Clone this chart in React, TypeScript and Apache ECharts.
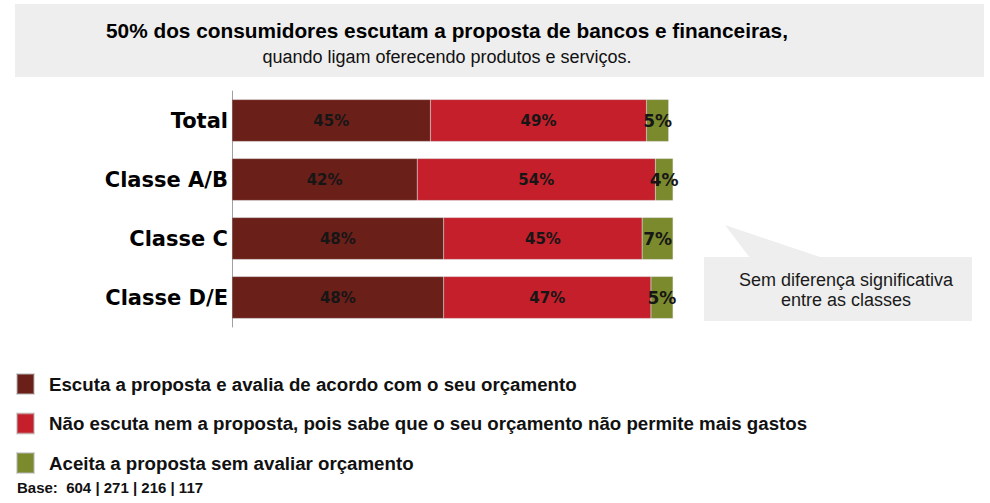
import React, { useEffect, useRef } from "react";
import * as echarts from "echarts";

const categories = ["Total", "Classe A/B", "Classe C", "Classe D/E"];
const seriesNames = [
  "Escuta a proposta e avalia de acordo com o seu orçamento",
  "Não escuta nem a proposta, pois sabe que o seu orçamento não permite mais gastos",
  "Aceita a proposta sem avaliar orçamento",
];
const escuta = [45, 42, 48, 48];
const naoEscuta = [49, 54, 45, 47];
const aceita = [5, 4, 7, 5];
const colors = ["#6B1F19", "#C41F2A", "#7A8A2C"];
const titleLine1 = "50% dos consumidores escutam a proposta de bancos e financeiras,";
const titleLine2 = "quando ligam oferecendo produtos e serviços.";
const noteLines = ["Sem diferença significativa", "entre as classes"];
const baseText = "Base:  604 | 271 | 216 | 117";

export default function App() {
  const ref = useRef<HTMLDivElement>(null);
  useEffect(() => {
    if (!ref.current) return;
    const chart = echarts.init(ref.current, undefined, { renderer: "svg" });
    const values = [escuta, naoEscuta, aceita];
    const labelSizes = [15, 15, 17];
    chart.setOption({
      animation: false,
      backgroundColor: "#ffffff",
      grid: { left: 232, top: 91, width: 441, height: 236, containLabel: false },
      xAxis: {
        type: "value",
        min: 0,
        max: 100,
        show: false,
      },
      yAxis: {
        type: "category",
        data: categories,
        inverse: true,
        axisLine: { show: true, lineStyle: { color: "#a0a0a0", width: 1 } },
        axisTick: { show: false },
        splitLine: { show: false },
        axisLabel: {
          color: "#000",
          fontSize: 21,
          fontWeight: "bold",
          fontFamily: "DejaVu Sans",
          margin: 4,
        },
      },
      legend: {
        orient: "vertical",
        left: 16,
        top: 373,
        padding: 0,
        itemWidth: 17,
        itemHeight: 20,
        itemGap: 17.5,
        icon: "rect",
        selectedMode: false,
        data: seriesNames,
        textStyle: {
          fontSize: 18.7,
          lineHeight: 20,
          fontWeight: "bold",
          fontFamily: "Liberation Sans",
          color: "#111",
          padding: [0, 0, 0, 10],
        },
      },
      series: seriesNames.map((name, i) => ({
        name,
        type: "bar",
        stack: "total",
        barWidth: 42,
        data: values[i],
        itemStyle: { color: colors[i], borderColor: "rgba(180,180,180,0.5)", borderWidth: 0.5 },
        label: {
          show: true,
          position: "inside",
          formatter: "{c}%",
          color: "#161616",
          fontSize: labelSizes[i],
          fontWeight: "bold",
          fontFamily: "DejaVu Sans",
        },
      })),
      graphic: [
        {
          type: "rect",
          shape: { x: 15, y: 4, width: 969, height: 73 },
          style: { fill: "#EEEEEE" },
          z: -10,
        },
        {
          type: "text",
          x: 447,
          y: 30,
          style: {
            text: titleLine1,
            fontSize: 20.8,
            fontWeight: "bold",
            fontFamily: "Liberation Sans",
            fill: "#000",
            align: "center",
            verticalAlign: "middle",
          },
        },
        {
          type: "text",
          x: 447,
          y: 57,
          style: {
            text: titleLine2,
            fontSize: 18,
            fontFamily: "Liberation Sans",
            fill: "#111",
            align: "center",
            verticalAlign: "middle",
          },
        },
        {
          type: "polygon",
          shape: { points: [[725, 225], [750, 258], [823, 258]] },
          style: { fill: "#EEEEEE" },
          z: -10,
        },
        {
          type: "rect",
          shape: { x: 704, y: 257, width: 268, height: 64 },
          style: { fill: "#EEEEEE" },
          z: -10,
        },
        {
          type: "text",
          x: 846,
          y: 280,
          style: {
            text: noteLines[0],
            fontSize: 18,
            fontFamily: "Liberation Sans",
            fill: "#1a1a1a",
            align: "center",
            verticalAlign: "middle",
          },
        },
        {
          type: "text",
          x: 846,
          y: 300,
          style: {
            text: noteLines[1],
            fontSize: 18,
            fontFamily: "Liberation Sans",
            fill: "#1a1a1a",
            align: "center",
            verticalAlign: "middle",
          },
        },
        {
          type: "text",
          x: 17,
          y: 487,
          style: {
            text: baseText,
            fontSize: 15,
            fontWeight: "bold",
            fontFamily: "Liberation Sans",
            fill: "#111",
            align: "left",
            verticalAlign: "middle",
          },
        },
      ],
    });
    return () => chart.dispose();
  }, []);
  return (
    <div
      ref={ref}
      style={{ position: "fixed", left: 0, top: 0, width: 990, height: 503 }}
    />
  );
}
